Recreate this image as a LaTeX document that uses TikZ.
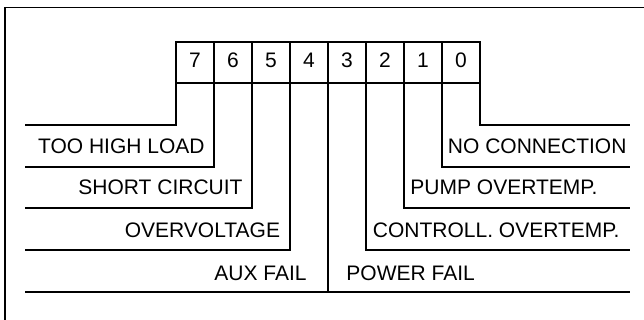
\documentclass[tikz,border=0pt]{standalone}
\usepackage{fontspec}
\setmainfont{Liberation Sans}
\begin{document}
\begin{tikzpicture}[x=1pt,y=-1pt,
  line width=1.9pt,
  cell/.style={draw, minimum width=38pt, minimum height=41pt, inner sep=0pt, outer sep=0pt},
  lbl/.style={inner sep=0pt, font=\fontsize{21}{25}\selectfont}]
\useasboundingbox (0,0) rectangle (644,320);
\draw[line width=1.4pt] (5,320) -- (5,7.5) -- (644,7.5);
% register cells
\foreach \i in {7,...,0} {
  \node[cell] (c\i) at ({176+19+38*(7-\i)},62.5) {};
  \node[lbl, anchor=base] (d\i) at (c\i.center |- 0,67.8) {\i};
}
% end points
\coordinate (l7) at (25,125);
\coordinate (l6) at (25,167);
\coordinate (l5) at (25,208);
\coordinate (l4) at (25,250);
\coordinate (l3) at (25,292);
\coordinate (r0) at (630,125);
\coordinate (r1) at (630,167);
\coordinate (r2) at (630,208);
\coordinate (r3) at (630,250);
\coordinate (r4) at (630,292);
% step lines
\draw (c7.south west) |- (l7);
\draw (c6.south west) |- (l6);
\draw (c5.south west) |- (l5);
\draw (c4.south west) |- (l4);
\draw (c3.south west) |- (l3);
\draw (c0.south east) |- (r0);
\draw (c1.south east) |- (r1);
\draw (c2.south east) |- (r2);
\draw (c3.south east) |- (r3);
\draw (c4.south east) |- (r4);
% labels
\node[lbl, anchor=base east] (t7) at (205.5,154) {TOO HIGH LOAD};
\node[lbl, anchor=base east] (t6) at (243.5,195) {SHORT CIRCUIT};
\node[lbl, anchor=base east] (t5) at (281,237) {OVERVOLTAGE};
\node[lbl, anchor=base east] (t4) at (307.5,280) {AUX FAIL};
\node[lbl, anchor=base west] (t0) at (447,154) {NO CONNECTION};
\node[lbl, anchor=base west] (t1) at (409.5,195) {PUMP OVERTEMP.};
\node[lbl, anchor=base west] (t2) at (372,237) {CONTROLL. OVERTEMP.};
\node[lbl, anchor=base west] (t3) at (345.5,280) {POWER FAIL};
\end{tikzpicture}
\end{document}
